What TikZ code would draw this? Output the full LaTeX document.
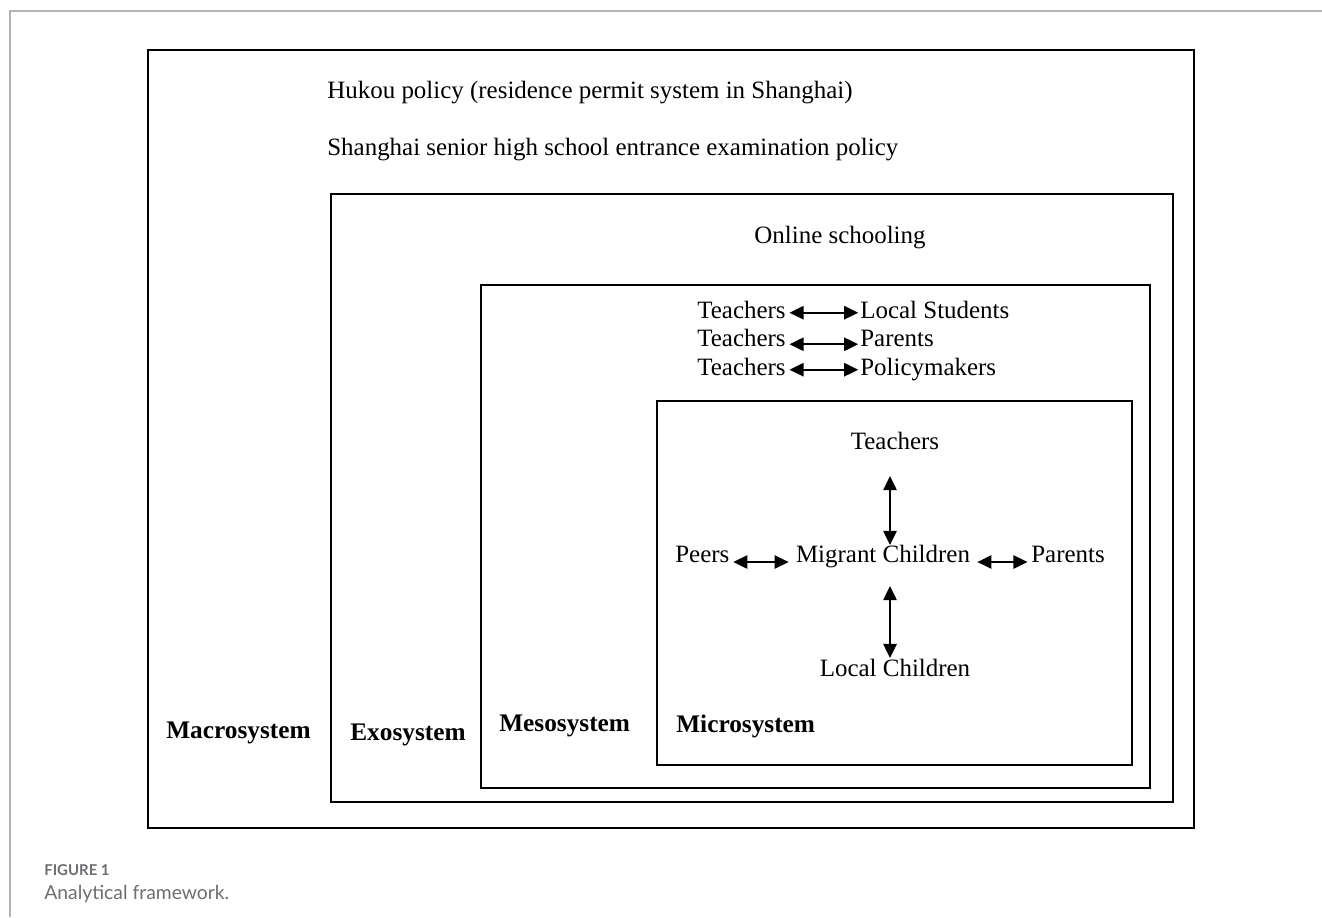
\documentclass[tikz,border=0pt]{standalone}
\usepackage{fontspec}
\setmainfont{Liberation Serif}
\newfontfamily\capfont{Lato}
\usetikzlibrary{arrows.meta}
\definecolor{capgray}{HTML}{6D6E71}
\definecolor{framegray}{HTML}{B4B4B4}
\begin{document}
\begin{tikzpicture}[x=0.02cm,y=-0.02cm,
  box/.style={draw, line width=1.2pt},
  txt/.style={inner sep=0pt, anchor=base west, font=\fontsize{14.2pt}{16pt}\selectfont},
  ctxt/.style={inner sep=0pt, anchor=base, font=\fontsize{14.2pt}{16pt}\selectfont},
  lbl/.style={inner sep=0pt, anchor=base west, font=\fontsize{14.4pt}{16pt}\selectfont\bfseries},
  dbl/.style={{Triangle[length=8pt,width=7.5pt]}-{Triangle[length=8pt,width=7.5pt]}, line width=1.2pt}]
\useasboundingbox (0,0) rectangle (1322,917);
\fill[white] (0,0) rectangle (1322,917);
% page frame
\draw[framegray, line width=0.9pt] (10,917) -- (10,11) -- (1322,11);
% nested boxes
\draw[box] (148,50) rectangle (1194,828);
\draw[box] (331,194) rectangle (1173,802);
\draw[box] (481,285) rectangle (1150,788);
\draw[box] (657,401) rectangle (1132,765);
% macrosystem
\node[txt] (hukou) at (327,98) {Hukou policy (residence permit system in Shanghai)};
\node[txt] (exam) at (327,155) {Shanghai senior high school entrance examination policy};
% exosystem
\node[ctxt] (online) at (840,243) {Online schooling};
% mesosystem
\node[txt] (t1) at (697,318) {Teachers};
\node[txt] (ls) at (860,318) {Local Students};
\node[txt] (t2) at (697,346) {Teachers};
\node[txt] (pa) at (860,346) {Parents};
\node[txt] (t3) at (697,375) {Teachers};
\node[txt] (pm) at (860,375) {Policymakers};
\draw[dbl] ([xshift=2pt,yshift=3pt]t1.base east) -- ([xshift=-1pt,yshift=3pt]ls.base west);
\draw[dbl] ([xshift=2pt,yshift=1pt]t2.base east) -- ([xshift=-1pt,yshift=1pt]pa.base west);
\draw[dbl] ([xshift=2pt,yshift=3pt]t3.base east) -- ([xshift=-1pt,yshift=3pt]pm.base west);
% microsystem
\node[ctxt] (mt) at (895,449) {Teachers};
\node[ctxt] (mc) at (883,562) {Migrant Children};
\node[ctxt] (lc) at (895,676) {Local Children};
\node[txt] (peers) at (675,562) {Peers};
\node[txt] (mpa) at (1031,562) {Parents};
\coordinate (va1) at (890,476);
\coordinate (va2) at (890,545);
\coordinate (vb1) at (890,586);
\coordinate (vb2) at (890,658);
\draw[dbl] (va1) -- (va2);
\draw[dbl] (vb1) -- (vb2);
\draw[dbl] ([xshift=2pt]peers.base east) -- ([xshift=-4pt]mc.base west);
\draw[dbl] ([xshift=4pt]mc.base east) -- ([xshift=-2pt]mpa.base west);
% system labels
\node[lbl] (macro) at (166,738) {Macrosystem};
\node[lbl] (exo) at (350,740) {Exosystem};
\node[lbl] (meso) at (499,731) {Mesosystem};
\node[lbl] (micro) at (676,732) {Microsystem};
% caption
\node[inner sep=0pt, anchor=base west, text=capgray, font=\capfont\bfseries\fontsize{8.5pt}{10pt}\selectfont] (fig) at (44,875) {FIGURE 1};
\node[inner sep=0pt, anchor=base west, text=capgray, font=\capfont\fontsize{11pt}{13pt}\selectfont] (cap) at (44,899) {Analytical framework.};
\end{tikzpicture}
\end{document}
